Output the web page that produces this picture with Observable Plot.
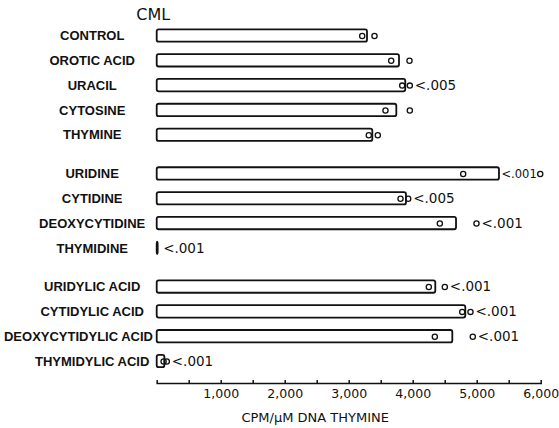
<!DOCTYPE html>
<html><head><meta charset="utf-8">
<script src="https://cdn.jsdelivr.net/npm/d3@7"></script>
<script src="https://cdn.jsdelivr.net/npm/@observablehq/plot@0.6"></script>
<style>body{margin:0;background:#fff}</style>
</head><body><div id="chart"></div>
<script>
const title = "CML";
const xLabel = "CPM/μM DNA THYMINE";
const categories = ["CONTROL","OROTIC ACID","URACIL","CYTOSINE","THYMINE","URIDINE","CYTIDINE","DEOXYCYTIDINE","THYMIDINE","URIDYLIC ACID","CYTIDYLIC ACID","DEOXYCYTIDYLIC ACID","THYMIDYLIC ACID"];
const groups = [0,0,0,0,0,1,1,1,1,2,2,2,2];
const means   = [3286,3786,3884,3744,3369,5348,3895,4677,15,4353,4822,4619,120];
const pointsA = [3203,3656,3828,3567,3306,4781,3802,4416,null,4244,4766,4338,100];
const pointsB = [3395,3942,3947,3947,3447,5985,3922,4989,null,4494,4895,4931,150];
const pValues = ["","","<.005","","","<.001","<.005","<.001","<.001","<.001","<.001","<.001","<.001"];
const xTicks = [1000,2000,3000,4000,5000,6000];
const xTickLabels = ["1,000","2,000","3,000","4,000","5,000","6,000"];
const minorTicks = d3.range(0, 6001, 500);

const GAP = 0.56;
const rows = categories.map((c, i) => ({
  cat: c, pos: i + groups[i] * GAP, mean: means[i],
  pts: [pointsA[i], pointsB[i]].filter(v => v != null), p: pValues[i]
}));
const points = rows.flatMap(r => r.pts.map(v => ({x: v, pos: r.pos})));
// a p-value follows the outermost mark, unless a far point leaves no room: then it sits between bar and point
const labels = rows.filter(r => r.p).map(r => {
  const near = r.pts.filter(v => v <= 5500);
  return {pos: r.pos, p: r.p, x: Math.max(r.mean, ...near), squeezed: near.length < r.pts.length};
});
const maxPos = d3.max(rows, r => r.pos);

const chart = Plot.plot({
  width: 559, height: 428,
  marginLeft: 156.7, marginRight: 18.3, marginTop: 35.5, marginBottom: 45,
  insetBottom: 22,
  style: {fontFamily: "DejaVu Sans", background: "#fff", color: "#111"},
  x: {domain: [0, 6000], axis: null},
  y: {domain: [0, maxPos], reverse: true, axis: null},
  marks: [
    Plot.frame({anchor: "bottom", strokeWidth: 1.6, stroke: "#111"}),
    Plot.axisX({ticks: minorTicks, tickSize: 3, dy: -3, text: null, strokeWidth: 1.5}),
    Plot.axisX({ticks: xTicks, tickFormat: d => xTickLabels[xTicks.indexOf(d)], tickSize: 0, tickPadding: 6, fontSize: 12.5, label: null}),
    Plot.text([xLabel], {frameAnchor: "bottom", dx: -34, dy: 29, fontSize: 13, lineAnchor: "top", style: "letter-spacing:1px;word-spacing:6px"}),
    Plot.text([title], {frameAnchor: "top-left", dx: -4, dy: -21, fontSize: 16, textAnchor: "middle", lineAnchor: "middle", style: "letter-spacing:1px"}),
    Plot.rectX(rows, {x1: 0, x2: "mean", y1: d => d.pos - 0.25, y2: d => d.pos + 0.25, fill: "white", stroke: "#111", strokeWidth: 1.8, rx: 2}),
    Plot.dot(points, {x: "x", y: "pos", r: 2.6, stroke: "#111", strokeWidth: 1.3, fill: "none"}),
    Plot.text(labels.filter(d => !d.squeezed), {x: "x", y: "pos", text: "p", textAnchor: "start", dx: 5, fontSize: 13.5}),
    Plot.text(labels.filter(d => d.squeezed), {x: "x", y: "pos", text: "p", textAnchor: "start", dx: 2, fontSize: 11.5}),
    Plot.text(rows, {y: "pos", text: "cat", frameAnchor: "left", textAnchor: "middle", dx: -65, fontFamily: "Liberation Sans", fontWeight: "bold", fontSize: 13})
  ]
});
document.getElementById("chart").appendChild(chart);
// keep long category labels from running into the bars
const svgLeft = chart.getBoundingClientRect().left;
const limit = 153;
Array.from(chart.querySelectorAll("text"))
  .filter(t => categories.includes(t.textContent.trim()))
  .forEach(t => {
    const right = t.getBoundingClientRect().right - svgLeft;
    if (right > limit) {
      const prev = t.getAttribute("transform") || "";
      t.setAttribute("transform", (prev + ` translate(${-(right - limit)},0)`).trim());
    }
  });
</script>
</body></html>
